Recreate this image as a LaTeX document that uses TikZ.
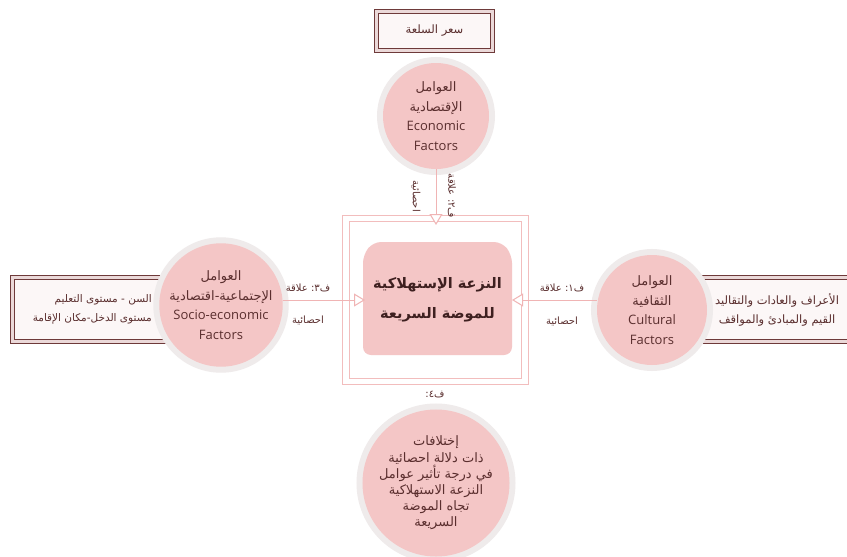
\documentclass[tikz,border=0pt]{standalone}
\usepackage{fontspec}
\setmainfont{Open Sans}
\newfontfamily\arabicfont[Script=Arabic]{DejaVu Sans}
\usetikzlibrary{arrows.meta}
\newcommand{\aw}[1]{\hbox{#1}}
\definecolor{pinkc}{HTML}{F4C6C6}
\definecolor{haloc}{HTML}{EFEBEB}
\definecolor{textc}{HTML}{5A2E2E}
\definecolor{coretext}{HTML}{3E2020}
\definecolor{boxc}{HTML}{6E3A3A}
\definecolor{boxgap}{HTML}{EBD9D9}
\definecolor{boxfill}{HTML}{FCF7F7}
\definecolor{framec}{HTML}{F2BDBD}
\definecolor{linec}{HTML}{F0B4B4}
\tikzset{
  circ/.style={circle, fill=pinkc, preaction={draw=haloc, line width=12pt}, inner sep=0pt, text=textc, align=center, font=\fontsize{13}{19.5}\selectfont},
  boxd/.style={draw=boxc, double=boxgap, double distance=2.4pt, line width=1.1pt, fill=boxfill, text=textc, align=center, font=\arabicfont\fontsize{11.5}{19}\selectfont},
  boxtxt/.style={text=textc, align=right, inner sep=0pt, font=\arabicfont\fontsize{10.5}{19}\selectfont},
  framebox/.style={draw=framec, double=white, double distance=5.5pt, line width=1pt},
  conn/.style={draw=linec, line width=1pt, -{Triangle[length=11pt, width=13pt, fill=white]}},
  lab/.style={text=textc, font=\arabicfont\fontsize{10}{12}\selectfont, inner sep=1pt},
  coretxt/.style={text=coretext, align=center, font=\arabicfont\bfseries\fontsize{14.5}{30}\selectfont}
}
\begin{document}
\begin{tikzpicture}[x=1pt,y=-1pt]
\useasboundingbox (0,0) rectangle (847,557);
\fill[white] (0,0) rectangle (847,557);
% frame and core
\node[framebox, minimum width=179pt, minimum height=163pt] (frame) at (435.5,300) {};
\fill[pinkc, rounded corners=8pt] (373,242) -- (502,242) -- (512,255) -- (512,355) -- (363,355) -- (363,255) -- cycle;
\node[coretxt] (core) at (437.5,300) {\aw{الإستهلاكية} \aw{النزعة}\\\aw{السريعة} \aw{للموضة}};
% boxes
\node[boxd, minimum width=116pt, minimum height=39pt] (topbox) at (434.5,31) {\aw{السلعة} \aw{سعر}};
\node[boxd, minimum width=175pt, minimum height=64pt] (leftbox) at (100,309.5) {};
\node[boxtxt, anchor=east] (lefttxt) at (152,309) {\aw{التعليم} \aw{مستوى} \aw{-} \aw{السن}\\\aw{الإقامة} \aw{مكان}\aw{-}\aw{الدخل} \aw{مستوى}};
\node[boxd, minimum width=174pt, minimum height=64pt] (rightbox) at (777,309.5) {\aw{والتقاليد} \aw{والعادات} \aw{الأعراف}\\\aw{والمواقف} \aw{والمبادئ} \aw{القيم}};
% circles
\node[circ, minimum size=106pt] (topc) at (436,116) {{\arabicfont\aw{العوامل}}\\{\arabicfont\aw{الإقتصادية}}\\Economic\\Factors};
\node[circ, minimum size=114pt] (leftc) at (221,305) {{\arabicfont\aw{العوامل}}\\{\arabicfont\aw{اقتصادية}\aw{-}\aw{الإجتماعية}}\\Socio-economic\\Factors};
\node[circ, minimum size=110pt] (rightc) at (652,310) {{\arabicfont\aw{العوامل}}\\{\arabicfont\aw{الثقافية}}\\Cultural\\Factors};
\node[circ, minimum size=124pt, font=\arabicfont\fontsize{13}{16.2}\selectfont] (botc) at (436,483) {\aw{إختلافات}\\\aw{احصائية} \aw{دلالة} \aw{ذات}\\\aw{عوامل} \aw{تأثير} \aw{درجة} \aw{في}\\\aw{الاستهلاكية} \aw{النزعة}\\\aw{الموضة} \aw{تجاه}\\\aw{السريعة}};
% connectors
\coordinate (ttip) at (436,225);
\coordinate (ltip) at (365,300);
\coordinate (rtip) at (512,300);
\draw[conn] (topc.south) -- (ttip);
\draw[conn] (leftc.east |- ltip) -- (ltip);
\draw[conn] (rightc.west |- rtip) -- (rtip);
% labels
\node[lab, rotate=-90] (tl1) at (416,196) {\aw{احصائية}};
\node[lab, rotate=-90] (tl2) at (452,196) {\aw{علاقة} \aw{:}\aw{٢}\aw{ف}};
\node[lab] (ll1) at (308,288) {\aw{علاقة} \aw{:}\aw{٣}\aw{ف}};
\node[lab] (ll2) at (308,320) {\aw{احصائية}};
\node[lab] (rl1) at (562,288) {\aw{علاقة} \aw{:}\aw{١}\aw{ف}};
\node[lab] (rl2) at (562,321) {\aw{احصائية}};
\node[lab] (bl) at (435,395) {\aw{\aw{:}\aw{٤}\aw{ف}}};
\end{tikzpicture}
\end{document}
